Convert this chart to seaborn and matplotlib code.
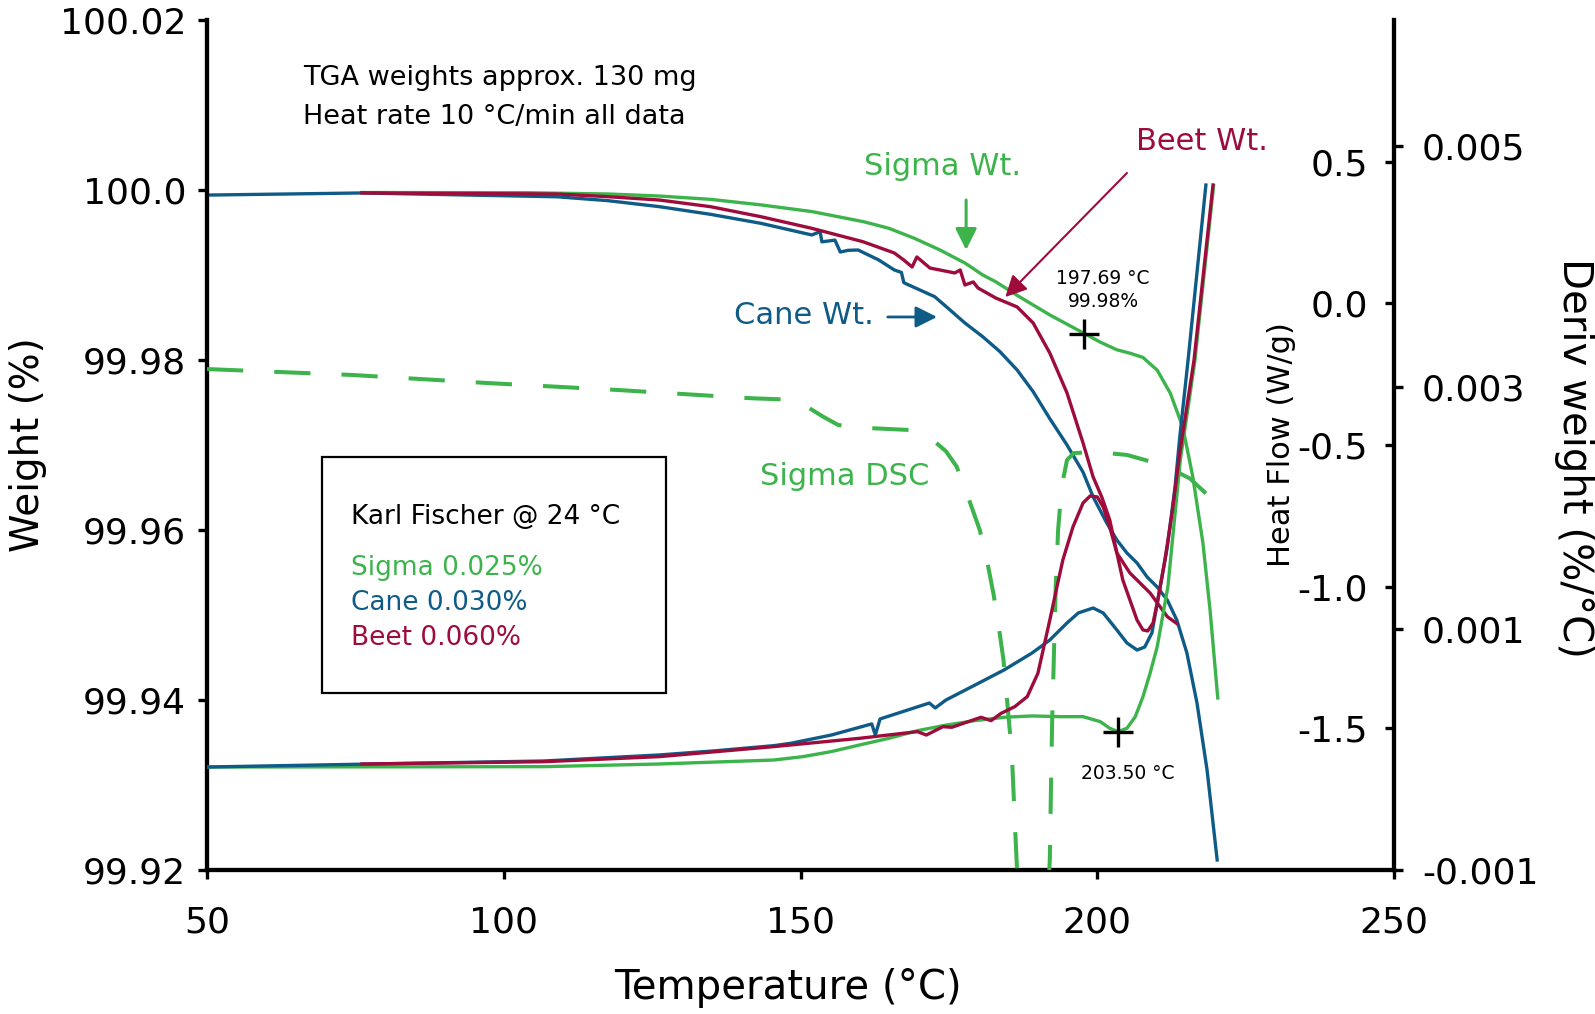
import matplotlib
matplotlib.use("Agg")
import matplotlib.pyplot as plt
from matplotlib.patches import Rectangle
import seaborn as sns

green = "#3cb44b"
blue = "#0f5b88"
red = "#9d0c3b"

# weight curves (left axis, %)
cane_wt_t = [50.0, 76.1, 109.0, 117.6, 126.2, 134.8, 143.3, 151.9, 153.3, 153.6, 155.8, 156.7,
             158.0, 159.7, 163.2, 165.8, 167.0, 167.4, 168.0, 172.6, 175.2, 177.7, 180.7, 183.6,
             186.5, 189.2, 192.0, 194.9, 197.6, 199.3, 201.6, 203.3, 205.0, 206.7, 208.4, 210.1,
             211.8, 213.4, 215.1, 216.8, 218.5, 220.2]
cane_wt = [99.99940, 99.99965, 99.99920, 99.99874, 99.99804, 99.99714, 99.99608, 99.99471, 99.99510,
           99.99390, 99.99410, 99.99270, 99.99290, 99.99294, 99.99176, 99.99059, 99.99030, 99.98910,
           99.98890, 99.98745, 99.98588, 99.98435, 99.98274, 99.98098, 99.97882, 99.97627, 99.97310,
           99.97000, 99.96680, 99.96390, 99.96082, 99.95882, 99.95729, 99.95612, 99.95447, 99.95329,
           99.95176, 99.94941, 99.94553, 99.93965, 99.93176, 99.92118]

beet_wt_t = [76.1, 109.0, 117.6, 126.2, 134.8, 143.3, 151.9, 160.5, 165.8, 167.4, 168.8, 169.6,
             171.8, 176.0, 176.9, 177.7, 179.1, 179.9, 182.9, 186.5, 189.2, 192.0, 194.9, 197.6,
             199.3, 200.8, 202.1, 203.3, 205.5, 208.9, 211.8, 213.4]
beet_wt = [99.99965, 99.99953, 99.99921, 99.99882, 99.99804, 99.99686, 99.99549, 99.99392, 99.99259,
           99.99176, 99.99094, 99.99212, 99.99082, 99.99024, 99.99059, 99.98882, 99.98918, 99.98847,
           99.98729, 99.98624, 99.98435, 99.98082, 99.97612, 99.97024, 99.96624, 99.96380, 99.96118,
           99.95730, 99.95494, 99.95259, 99.94980, 99.94900]

sigma_wt_t = [76.1, 103.8, 117.6, 126.2, 134.8, 143.4, 152.0, 160.6, 164.9, 169.2, 173.5, 177.8,
              180.7, 182.9, 186.5, 192.0, 197.6, 200.5, 203.3, 205.5, 207.7, 210.1, 212.3, 214.4,
              216.1, 217.8, 219.0, 220.3]
sigma_wt = [99.99970, 99.99968, 99.99953, 99.99929, 99.99890, 99.99824, 99.99745, 99.99627, 99.99549,
            99.99431, 99.99294, 99.99137, 99.99000, 99.98920, 99.98760, 99.98530, 99.98320, 99.98210,
            99.98120, 99.98080, 99.98030, 99.97880, 99.97610, 99.97212, 99.96624, 99.95847, 99.95059,
            99.94024]

# derivative weight curves (%/°C)
cane_dw_t = [50.0, 77.8, 106.8, 126.2, 135.8, 145.5, 148.4, 155.2, 162.0, 162.6, 163.4, 171.7,
             172.7, 174.5, 179.4, 184.3, 189.0, 192.0, 194.9, 196.8, 199.3, 201.0, 203.3, 205.0,
             206.7, 208.0, 209.2, 210.2, 211.8, 213.1, 213.9, 215.3, 218.3]
cane_dw = [-0.000147, -0.000122, -0.000097, -0.000047, -0.000012, 0.000030, 0.000050, 0.000118,
           0.000210, 0.000118, 0.000251, 0.000383, 0.000342, 0.000408, 0.000532, 0.000657,
           0.000797, 0.000905, 0.001046, 0.001129, 0.001170, 0.001129, 0.000988, 0.000880,
           0.000822, 0.000847, 0.000963, 0.001236, 0.001675, 0.002172, 0.002586, 0.003224,
           0.004673]

beet_dw_t = [76.1, 106.8, 126.2, 145.5, 160.0, 169.7, 171.2, 174.0, 175.5, 180.4, 182.1, 183.8,
             186.1, 188.2, 190.0, 192.0, 193.2, 194.2, 195.9, 197.6, 198.8, 200.0, 201.0, 202.1,
             203.3, 204.3, 205.5, 206.7, 207.7, 208.5, 209.4, 210.2, 211.4, 212.6, 213.9, 216.3,
             219.5]
beet_dw = [-0.000122, -0.000103, -0.000061, 0.000022, 0.000091, 0.000146, 0.000118, 0.000187,
           0.000182, 0.000265, 0.000237, 0.000298, 0.000353, 0.000436, 0.000630, 0.001070,
           0.001344, 0.001568, 0.001841, 0.002040, 0.002098, 0.002090, 0.002007, 0.001841,
           0.001626, 0.001402, 0.001236, 0.001070, 0.000988, 0.000980, 0.001046, 0.001236,
           0.001568, 0.001957, 0.002454, 0.003224, 0.004673]

sigma_dw_t = [50.0, 106.8, 126.2, 145.5, 150.4, 155.1, 160.0, 164.9, 169.7, 174.5, 179.4, 184.3,
              189.0, 193.9, 197.6, 200.5, 202.1, 203.5, 205.0, 206.4, 207.7, 208.9, 210.1, 211.1,
              211.9, 212.8, 214.0, 216.4, 219.6]
sigma_dw = [-0.000147, -0.000144, -0.000122, -0.000089, -0.000061, -0.000020, 0.000036, 0.000091,
            0.000154, 0.000200, 0.000237, 0.000265, 0.000276, 0.000270, 0.000270, 0.000229,
            0.000174, 0.000146, 0.000174, 0.000270, 0.000436, 0.000630, 0.000850, 0.001126,
            0.001347, 0.001800, 0.002400, 0.003200, 0.004670]

# Sigma DSC heat flow (W/g)
dsc_t = [50.0, 74.6, 97.0, 119.3, 141.7, 146.8, 149.4, 151.1, 153.8, 156.3, 158.8, 162.3, 168.3,
         170.5, 172.6, 174.5, 176.3, 178.0, 180.2, 181.4, 182.5, 183.4, 184.2, 185.0, 185.6, 186.1,
         186.4, 187.5, 189.2, 190.9, 192.0, 192.2, 192.4, 192.7, 193.0, 193.4, 194.0, 194.9,
         196.0, 199.3, 205.0, 211.1, 215.6, 220.1, 221.2]
dsc_hf = [-0.232, -0.253, -0.281, -0.306, -0.335, -0.339, -0.347, -0.365, -0.400, -0.429, -0.438,
          -0.441, -0.447, -0.465, -0.488, -0.522, -0.576, -0.670, -0.800, -0.906, -1.024, -1.141,
          -1.259, -1.447, -1.588, -1.824, -1.965, -2.400, -2.600, -2.400, -1.965, -1.706, -1.470,
          -1.235, -1.000, -0.800, -0.647, -0.553, -0.529, -0.524, -0.535, -0.571, -0.618, -0.706,
          -0.741]

x_ticks = [50, 100, 150, 200, 250]
wt_ticks = [99.92, 99.94, 99.96, 99.98, 100.0, 100.02]
wt_labels = ["99.92", "99.94", "99.96", "99.98", "100.0", "100.02"]
hf_ticks = [-1.5, -1.0, -0.5, 0.0, 0.5]
hf_labels = ["-1.5", "-1.0", "-0.5", "0.0", "0.5"]
dw_ticks = [-0.001, 0.001, 0.003, 0.005]
dw_labels = ["-0.001", "0.001", "0.003", "0.005"]

plt.rcParams["font.family"] = ["DejaVu Sans"]
plt.rcParams["axes.unicode_minus"] = False

fig = plt.figure(figsize=(15.95, 10.14), dpi=100)
ax = fig.add_axes([0.1298, 0.1420, 0.7442, 0.8383])
ax2 = ax.twinx()
ax3 = ax.twinx()

lw = 2.4
sns.lineplot(x=sigma_wt_t, y=sigma_wt, ax=ax, color=green, linewidth=lw, sort=False, estimator=None)
sns.lineplot(x=cane_wt_t, y=cane_wt, ax=ax, color=blue, linewidth=lw, sort=False, estimator=None)
sns.lineplot(x=beet_wt_t, y=beet_wt, ax=ax, color=red, linewidth=lw, sort=False, estimator=None)

sns.lineplot(x=dsc_t, y=dsc_hf, ax=ax2, color=green, linewidth=2.9, linestyle=(0, (9, 7.7)),
             sort=False, estimator=None)

sns.lineplot(x=sigma_dw_t, y=sigma_dw, ax=ax3, color=green, linewidth=lw, sort=False, estimator=None)
sns.lineplot(x=cane_dw_t, y=cane_dw, ax=ax3, color=blue, linewidth=lw, sort=False, estimator=None)
sns.lineplot(x=beet_dw_t, y=beet_dw, ax=ax3, color=red, linewidth=lw, sort=False, estimator=None)

for l in ax.lines + ax2.lines + ax3.lines:
    l.set_solid_joinstyle("round")

# marked points
ax.plot([197.69], [99.983], marker="+", ms=22, mew=2.4, color="black")
ax3.plot([203.50], [0.000146], marker="+", ms=22, mew=2.4, color="black")

ax.set_xlim(50, 250)
ax.set_ylim(99.92, 100.02)
ax2.set_ylim(-2, 1)
ax3.set_ylim(-0.001, 0.00604)

ax.set_xticks(x_ticks)
ax.set_xticklabels([str(v) for v in x_ticks])
ax.set_yticks(wt_ticks)
ax.set_yticklabels(wt_labels)
ax2.set_yticks(hf_ticks)
ax2.set_yticklabels(hf_labels)
ax3.set_yticks(dw_ticks)
ax3.set_yticklabels(dw_labels)

for a in (ax, ax2, ax3):
    for s in a.spines.values():
        s.set_visible(False)
    a.set_xlabel("")
    a.set_ylabel("")
for s in ("left", "bottom"):
    ax.spines[s].set_visible(True)
    ax.spines[s].set_linewidth(3.1)
ax2.spines["right"].set_visible(True)
ax2.spines["right"].set_linewidth(3.1)

ax.tick_params(axis="both", direction="out", length=6.5, width=2.4, labelsize=26)
ax.tick_params(axis="x", pad=19)
ax.tick_params(axis="y", pad=8.5)
ax2.tick_params(axis="y", direction="in", length=6.5, width=2.4, labelsize=26, pad=-18.7)
for lbl in ax2.get_yticklabels():
    lbl.set_horizontalalignment("right")
ax3.tick_params(axis="y", direction="out", length=6.5, width=2.4, labelsize=26, pad=13.5)

ax.set_xlabel("Temperature (°C)", fontsize=29, va="center")
ax.xaxis.set_label_coords(0.4895, -0.139)
ax.set_ylabel("Weight (%)", fontsize=28, va="center")
ax.yaxis.set_label_coords(-0.151, 0.5)
ax2.set_ylabel("Heat Flow (W/g)", fontsize=22, rotation=90, va="center", ha="center")
ax2.yaxis.set_label_coords(0.905, 0.5)
ax3.set_ylabel("Deriv weight (%/°C)", fontsize=29, rotation=270, va="center", ha="center")
ax3.yaxis.set_label_coords(1.152, 0.485)

# notes
ax.text(0.0809, 0.9318, "TGA weights approx. 130 mg", transform=ax.transAxes, fontsize=19.5, va="center")
ax.text(0.0809, 0.8859, "Heat rate 10 °C/min all data", transform=ax.transAxes, fontsize=19.5, va="center")

ax.add_patch(Rectangle((0.0969, 0.2082), 0.2898, 0.2776, transform=ax.transAxes,
                       facecolor="white", edgecolor="black", lw=1.6, zorder=1))
ax.text(0.1213, 0.4153, "Karl Fischer @ 24 °C", transform=ax.transAxes, fontsize=19, va="center")
ax.text(0.1213, 0.3553, "Sigma 0.025%", transform=ax.transAxes, fontsize=19, va="center", color=green)
ax.text(0.1213, 0.3141, "Cane 0.030%", transform=ax.transAxes, fontsize=19, va="center", color=blue)
ax.text(0.1213, 0.2729, "Beet 0.060%", transform=ax.transAxes, fontsize=19, va="center", color=red)

ax.text(0.4659, 0.4624, "Sigma DSC", transform=ax.transAxes, fontsize=22, va="center", color=green)
ax.text(0.6196, 0.8282, "Sigma Wt.", transform=ax.transAxes, fontsize=22, va="center", ha="center", color=green)
ax.text(0.8383, 0.8565, "Beet Wt.", transform=ax.transAxes, fontsize=22, va="center", ha="center", color=red)
ax.text(0.5030, 0.6529, "Cane Wt.", transform=ax.transAxes, fontsize=22, va="center", ha="center", color=blue)

ax.text(0.7548, 0.6824, "197.69 °C\n99.98%", transform=ax.transAxes, fontsize=13.5, va="center",
        ha="center", linespacing=1.3)
ax.text(0.7759, 0.1141, "203.50 °C", transform=ax.transAxes, fontsize=13.5, va="center", ha="center")

# arrows to the curves
arrow_style = "-|>,head_length=1.3,head_width=0.65"
ax.annotate("", xy=(177.9, 99.99294), xytext=(177.9, 99.99882),
            arrowprops=dict(arrowstyle=arrow_style, color=green, lw=2.2, shrinkA=0, shrinkB=0,
                            mutation_scale=10))
ax.annotate("", xy=(184.5, 99.98741), xytext=(205.0, 100.0020),
            arrowprops=dict(arrowstyle=arrow_style, color=red, lw=1.5, shrinkA=0, shrinkB=0,
                            mutation_scale=10))
ax.annotate("", xy=(173.0, 99.98506), xytext=(164.7, 99.98506),
            arrowprops=dict(arrowstyle=arrow_style, color=blue, lw=2.0, shrinkA=0, shrinkB=0,
                            mutation_scale=10))

fig.savefig("out.png", dpi=100)
